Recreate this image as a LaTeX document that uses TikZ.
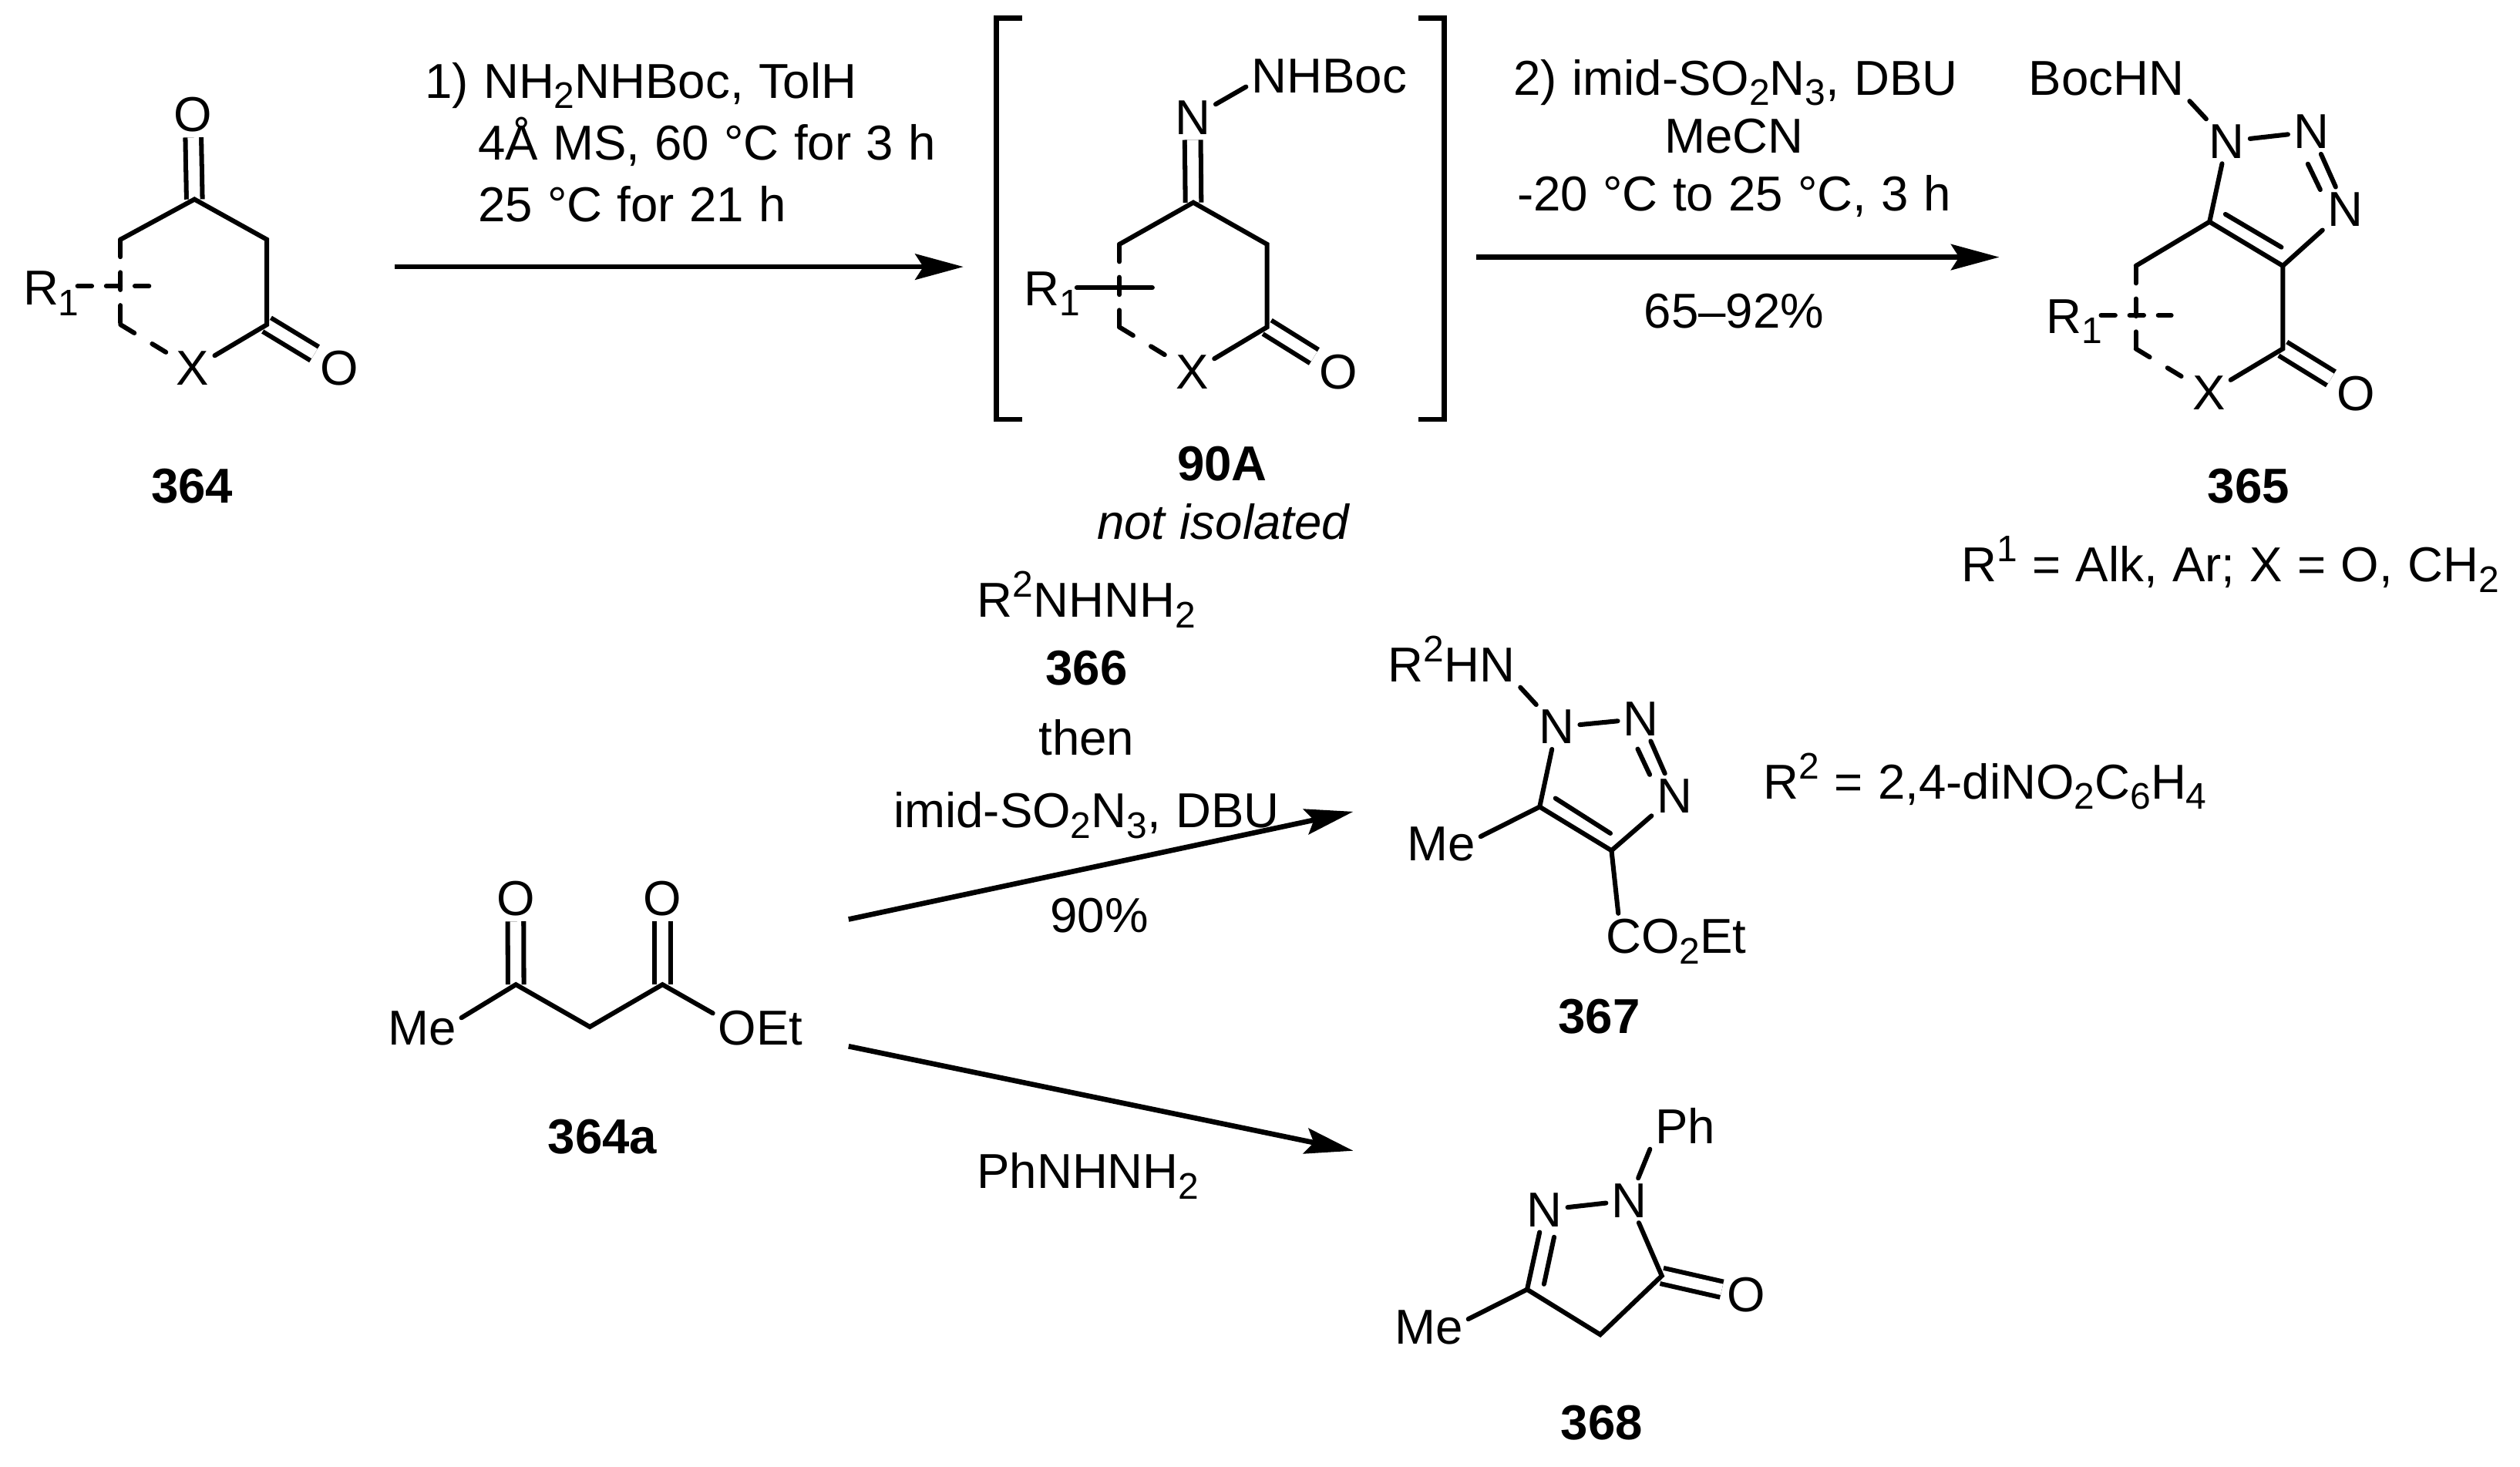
\documentclass[tikz,border=0pt]{standalone}
\usepackage{fontspec}
\setmainfont{Liberation Sans}
\usetikzlibrary{arrows.meta}
\newcommand{\chemfont}{\fontsize{15.25pt}{18pt}\selectfont\spaceskip=4.64pt\relax}
\newcommand{\lowr}[1]{\raisebox{-3.3pt}{\fontsize{11.5pt}{12pt}\selectfont #1}}
\newcommand{\uppr}[1]{\raisebox{6.2pt}{\fontsize{11.5pt}{12pt}\selectfont #1}}
\begin{document}
\begin{tikzpicture}[x=0.5pt,y=-0.5pt,
        every node/.style={font=\chemfont},
        atom/.style={inner sep=1.5pt,anchor=base},
        txt/.style={inner sep=0pt,anchor=base},
        txtl/.style={inner sep=0pt,anchor=base west},
        cmpd/.style={inner sep=0pt,anchor=base,font=\chemfont\bfseries},
        bond/.style={line width=1.45pt,line cap=round,line join=miter},
        dbl/.style={line width=1.45pt,double=white,double distance=3.5pt},
        dashv/.style={bond,dash pattern=on 5.4pt off 4.85pt},
        dashh/.style={bond,dash pattern=on 4.4pt off 4.5pt},
        dashb/.style={bond,dash pattern=on 5.0pt off 6.5pt},
        rxn/.style={line width=1.6pt,-{Stealth[length=15pt,width=8pt,inset=2.5pt]}},
        brk/.style={line width=1.6pt,line join=miter}]
    \useasboundingbox (0,0) rectangle (1568,912.3);

    % 364
    \node[atom] (aO1) at (120,81.8) {O};
    \node[atom] (aO2) at (211,239.8) {O};
    \node[atom] (aX) at (120,239.8) {X};
    \node[txtl] (aR) at (14,189.6) {R\lowr{1}};
    \coordinate (a1) at (121,124);
    \coordinate (a2) at (166,149);
    \coordinate (a3) at (166,202);
    \coordinate (a4) at (75,202);
    \coordinate (a5) at (75,149);
    \coordinate (ah1) at (48.3,178);
    \coordinate (ah2) at (93,178);
    \draw[dbl] (a1) -- (aO1);
    \draw[dbl] (a3) -- (aO2);
    \draw[bond] (a5) -- (a1) -- (a2) -- (a3) -- (aX);
    \draw[dashv] (a5) -- (a4);
    \draw[dashb] (a4) -- (aX);
    \draw[dashh] (ah1) -- (ah2);
    \node[cmpd] (l364) at (119.5,313) {364};

    % first step
    \coordinate (r1s) at (245.7,166);
    \coordinate (r1e) at (599.5,166);
    \draw[rxn] (r1s) -- (r1e);
    \node[txtl] (t1a) at (264,61) {1) NH\lowr{2}NHBoc, TolH};
    \node[txtl] (t1b) at (297,99.7) {4Å MS, 60 °C for 3 h};
    \node[txtl] (t1c) at (297,138) {25 °C for 21 h};

    % 90A
    \coordinate (bl1) at (636,11.4);
    \coordinate (bl2) at (636,261);
    \coordinate (br1) at (882.6,11.4);
    \coordinate (br2) at (882.6,261);
    \draw[brk] (bl1) -- ++(-16,0) -- ++(0,249.6) -- (bl2);
    \draw[brk] (br1) -- ++(16,0) -- ++(0,249.6) -- (br2);
    \node[atom] (bN) at (742,83.6) {N};
    \node[atom] (bNHB) at (827,58) {NHBoc};
    \node[atom] (bO) at (833,241.8) {O};
    \node[atom] (bX) at (742,241.8) {X};
    \node[txtl] (bR) at (637,190) {R\lowr{1}};
    \coordinate (b1) at (742.5,126);
    \coordinate (b2) at (788.4,152);
    \coordinate (b3) at (788.4,203.5);
    \coordinate (b4) at (696.5,203.5);
    \coordinate (b5) at (696.5,152);
    \coordinate (bh1) at (670,179);
    \coordinate (bh2) at (717,179);
    \draw[dbl] (b1) -- (bN);
    \draw[dbl] (b3) -- (bO);
    \draw[bond] (bN) -- (bNHB.187);
    \draw[bond] (b5) -- (b1) -- (b2) -- (b3) -- (bX);
    \draw[dashv] (b5) -- (b4);
    \draw[dashb] (b4) -- (bX);
    \draw[bond] (bh1) -- (bh2);
    \node[cmpd] (l90) at (760.5,299) {90A};
    \node[txt,font=\chemfont\itshape] (l90n) at (761,335.5) {not isolated};

    % second step
    \coordinate (r2s) at (918.6,160);
    \coordinate (r2e) at (1244,160);
    \draw[rxn] (r2s) -- (r2e);
    \node[txt] (t2a) at (1080,59) {2) imid-SO\lowr{2}N\lowr{3}, DBU};
    \node[txt] (t2b) at (1079,95) {MeCN};
    \node[txt] (t2c) at (1079,131) {-20 °C to 25 °C, 3 h};
    \node[txt] (t2d) at (1079,204) {65–92\%};

    % 365
    \node[atom,anchor=base east] (cBoc) at (1362.4,59.2) {BocHN};
    \node[atom] (cN1) at (1385.6,98.4) {N};
    \node[atom] (cN2) at (1438,92.5) {N};
    \node[atom] (cN3) at (1459.5,140.7) {N};
    \node[atom] (cO) at (1465.7,255.4) {O};
    \node[atom] (cX) at (1374.4,255) {X};
    \node[txtl] (cR) at (1273,207.3) {R\lowr{1}};
    \coordinate (c1) at (1374.8,138);
    \coordinate (c2) at (1420.4,165.4);
    \coordinate (c3) at (1420.4,217);
    \coordinate (c4) at (1329,217);
    \coordinate (c5) at (1329,165.4);
    \coordinate (c1i) at (1384.7,133.3);
    \coordinate (c2i) at (1419.5,153.8);
    \coordinate (cn2i) at (1436,102);
    \coordinate (cn3i) at (1443.7,118);
    \coordinate (ch1) at (1307.3,196.2);
    \coordinate (ch2) at (1351,196.2);
    \draw[dbl] (c3) -- (cO);
    \draw[bond] (cBoc.south east) -- (cN1);
    \draw[bond] (cN1) -- (cN2);
    \draw[bond] (cN2) -- (cN3);
    \draw[bond] (cn2i) -- (cn3i);
    \draw[bond] (cN1) -- (c1);
    \draw[bond] (c5) -- (c1) -- (c2) -- (c3) -- (cX);
    \draw[bond] (c1i) -- (c2i);
    \draw[bond] (c2) -- (cN3);
    \draw[dashv] (c5) -- (c4);
    \draw[dashb] (c4) -- (cX);
    \draw[dashh] (ch1) -- (ch2);
    \node[cmpd] (l365) at (1399,313) {365};
    \node[txtl] (t365) at (1220,362) {R\uppr{1} = Alk, Ar; X = O, CH\lowr{2}};

    % conditions for 366
    \node[txt] (t3a) at (676,384) {R\uppr{2}NHNH\lowr{2}};
    \node[cmpd] (l366) at (676,426) {366};
    \node[txt] (t3b) at (676,470) {then};
    \node[txt] (t3c) at (676,515) {imid-SO\lowr{2}N\lowr{3}, DBU};
    \node[txt] (t3d) at (684,580) {90\%};
    \node[txt] (t4a) at (677,739.5) {PhNHNH\lowr{2}};
    \coordinate (r3s) at (528,572);
    \coordinate (r3e) at (842,505);
    \coordinate (r4s) at (528,651);
    \coordinate (r4e) at (842,716);
    \draw[rxn] (r3s) -- (r3e);
    \draw[rxn] (r4s) -- (r4e);

    % 364a
    \node[atom] (eMe) at (262.5,650.2) {Me};
    \node[atom] (eOEt) at (473.2,650) {OEt};
    \node[atom] (eO1) at (320.8,569.6) {O};
    \node[atom] (eO2) at (412.2,569.6) {O};
    \coordinate (e1) at (321,612.6);
    \coordinate (e2) at (367,638.9);
    \coordinate (e3) at (412.2,612.6);
    \draw[dbl] (e1) -- (eO1);
    \draw[dbl] (e3) -- (eO2);
    \draw[bond] (eMe.15) -- (e1) -- (e2) -- (e3) -- (eOEt.163);
    \node[cmpd] (l364a) at (374.8,718) {364a};

    % 367
    \node[atom,anchor=base east] (dHN) at (946,424.3) {R\uppr{2}HN};
    \node[atom] (dN1) at (968.6,462.8) {N};
    \node[atom] (dN2) at (1021,457.7) {N};
    \node[atom] (dN3) at (1042,505.6) {N};
    \node[atom] (dMe) at (896.7,535.6) {Me};
    \node[atom] (dCO) at (1043,593) {CO\lowr{2}Et};
    \coordinate (d1) at (958,502);
    \coordinate (d2) at (1002.7,529.2);
    \coordinate (d1i) at (967.8,496.7);
    \coordinate (d2i) at (1002,518.5);
    \coordinate (dn2i) at (1019,466);
    \coordinate (dn3i) at (1026.5,482);
    \draw[bond] (dHN.south east) -- (dN1);
    \draw[bond] (dN1) -- (dN2);
    \draw[bond] (dN2) -- (dN3);
    \draw[bond] (dn2i) -- (dn3i);
    \draw[bond] (dN1) -- (d1) -- (d2) -- (dN3);
    \draw[bond] (d1i) -- (d2i);
    \draw[bond] (d1) -- (dMe.11);
    \draw[bond] (d2) -- ([xshift=5.5pt]dCO.north west);
    \node[cmpd] (l367) at (995,643) {367};
    \node[txtl] (t367) at (1097,497) {R\uppr{2} = 2,4-diNO\lowr{2}C\lowr{6}H\lowr{4}};

    % 368
    \node[atom] (fPh) at (1048.7,711.6) {Ph};
    \node[atom] (fN1) at (1013.7,757.4) {N};
    \node[atom] (fN2) at (961,763.3) {N};
    \node[atom] (fO) at (1086.6,816.3) {O};
    \node[atom] (fMe) at (889,836.3) {Me};
    \coordinate (f1) at (1034,793.8);
    \coordinate (f2) at (995.7,830.4);
    \coordinate (f3) at (950.2,802.3);
    \coordinate (f2i) at (960.7,799);
    \coordinate (fn2i) at (967,769.7);
    \draw[dbl] (f1) -- (fO);
    \draw[bond] (fN1) -- (fPh.south west);
    \draw[bond] (fN2) -- (fN1);
    \draw[bond] (fN1) -- (f1) -- (f2) -- (f3) -- (fN2);
    \draw[bond] (fn2i) -- (f2i);
    \draw[bond] (f3) -- (fMe.12);
    \node[cmpd] (l368) at (996.6,895.9) {368};
\end{tikzpicture}
\end{document}
